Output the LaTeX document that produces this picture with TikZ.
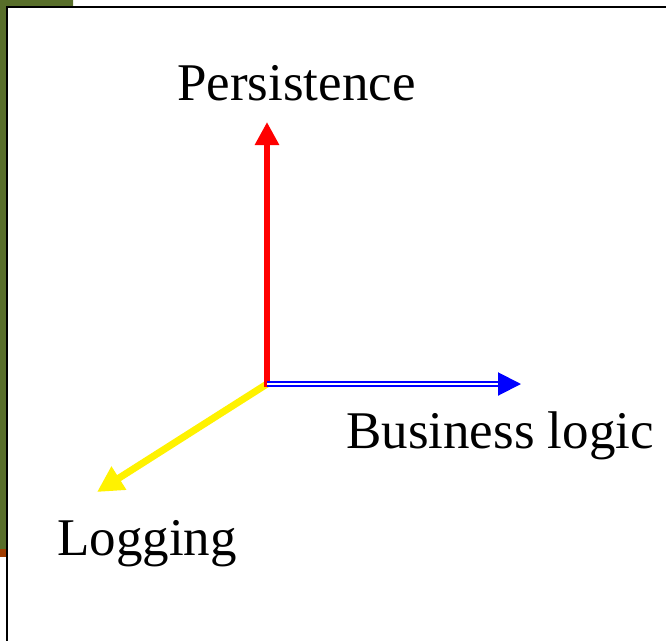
\documentclass[tikz,border=0pt]{standalone}
\usepackage{fontspec}
\setmainfont{Liberation Serif}
\usepackage{xcolor}
\usetikzlibrary{arrows.meta,positioning,calc}
\definecolor{olivebar}{RGB}{88,110,42}
\definecolor{rustbar}{RGB}{160,60,0}

\begin{document}
\begin{tikzpicture}[x=1pt,y=-1pt,
  font=\fontsize{53}{60}\selectfont,
  lbl/.style={inner sep=0pt,anchor=base west},
  axis/.style={line width=6pt,-{Triangle[length=23pt,width=23pt]}}]
\useasboundingbox (0,0) rectangle (666,640);
\fill[olivebar] (0,0) rectangle (73,8) (0,0) rectangle (7,549);
\fill[rustbar] (0,549) rectangle (7,557);
\draw[line width=2pt,fill=white] (7,680) -- (7,7) -- (700,7);
\coordinate (orig) at (267,384);
\coordinate (pers) at (267,122);
\coordinate (biz) at (521,384);
\coordinate (logg) at (97,492);
\node[lbl] (perslbl) at (177,100) {Persistence};
\node[lbl] (bizlbl) at (346,448) {Business logic};
\node[lbl] (logglbl) at (57,555) {Logging};
\draw[axis,yellow,line width=7pt,-{Triangle[length=26pt,width=26pt]}] (orig) -- (logg);
\draw[axis,red] ($(orig)+(0,3)$) -- (pers);
\draw[blue,line width=2pt,double=white,double distance=2pt,-{Triangle[length=23pt,width=23pt]}] (orig) -- (biz);
\end{tikzpicture}
\end{document}
